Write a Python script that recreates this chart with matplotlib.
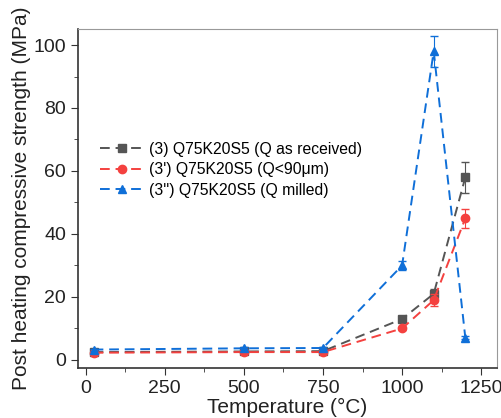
import matplotlib.pyplot as plt
from matplotlib.ticker import MultipleLocator

plt.rcParams['font.family'] = ['Liberation Sans', 'DejaVu Sans']

# Data
temp = [25, 500, 750, 1000, 1100, 1200]
s_received = [2.5, 2.7, 2.8, 13, 21, 58]
e_received = [0.3, 0.3, 0.3, 0.8, 1.5, 5]
s_fine = [2.3, 2.5, 2.5, 10, 19, 45]
e_fine = [0.3, 0.3, 0.3, 0.6, 2, 3]
s_milled = [3.3, 3.7, 3.8, 30, 98, 7]
e_milled = [0.3, 0.3, 0.3, 1.5, 5, 0.5]

labels = ["(3) Q75K20S5 (Q as received)",
          "(3') Q75K20S5 (Q<90\u03bcm)",
          "(3'') Q75K20S5 (Q milled)"]
colors = ['#555555', '#f4413f', '#0f6fd8']
markers = ['s', 'o', '^']

fig = plt.figure(figsize=(5.02, 4.18), dpi=100)
ax = fig.add_axes([0.155, 0.12, 0.835, 0.81])

for ys, es, c, m, lab in zip([s_received, s_fine, s_milled],
                             [e_received, e_fine, e_milled],
                             colors, markers, labels):
    ax.errorbar(temp, ys, yerr=es, fmt='none', ecolor=c, capsize=3,
                elinewidth=0.8)
    ax.plot(temp, ys, color=c, ls=(0, (5, 3)), lw=1.4, marker=m, ms=6,
            label=lab)

ax.set_xlim(-25, 1300)
ax.set_ylim(-2.5, 105)
ax.xaxis.set_major_locator(MultipleLocator(250))
ax.xaxis.set_minor_locator(MultipleLocator(125))
ax.yaxis.set_major_locator(MultipleLocator(20))
ax.yaxis.set_minor_locator(MultipleLocator(10))
ax.tick_params(which='both', direction='out', labelsize=14, color='#333333')
ax.tick_params(which='major', length=5)
ax.tick_params(which='minor', length=3)
ax.tick_params(axis='both', labelcolor='#222222')
for side in ['top', 'right']:
    ax.spines[side].set_color('#999999')
for side in ['left', 'bottom']:
    ax.spines[side].set_color('#333333')
    ax.spines[side].set_linewidth(1.2)

ax.set_xlabel('Temperature (°C)', fontsize=15, labelpad=1, color='#222222')
ax.set_ylabel('Post heating compressive strength (MPa)', fontsize=15,
              labelpad=2, color='#222222')

ax.legend(loc='upper left', bbox_to_anchor=(0.02, 0.71), frameon=False,
          fontsize=11.3, handlelength=2.8, handletextpad=0.3, labelspacing=0.35)

fig.savefig('out.png', dpi=100)
